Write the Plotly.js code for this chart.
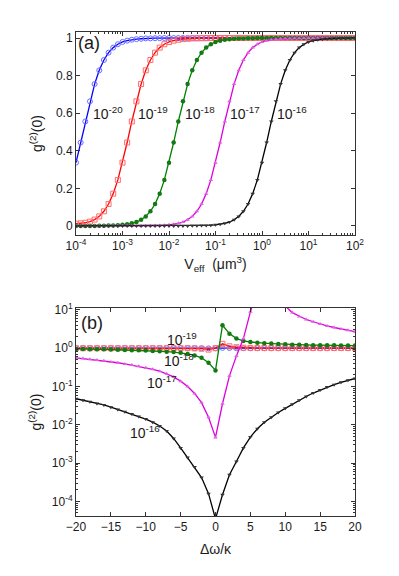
<!DOCTYPE html>
<html>
<head>
<meta charset="utf-8">
<script src="https://cdn.plot.ly/plotly-3.0.1.min.js"></script>
<style>
  html, body { margin: 0; padding: 0; background: #fff; }
  #chart { width: 399px; height: 576px; }
</style>
</head>
<body>
<div id="chart"></div>
<script>
// ---- panel (a): g2(0) against mode volume, exponents of V_eff (um^3)
const vExp = [-4,-3.9,-3.8,-3.7,-3.6,-3.5,-3.4,-3.3,-3.2,-3.1,
  -3,-2.9,-2.8,-2.7,-2.6,-2.5,-2.4,-2.3,-2.2,-2.1,
  -2,-1.9,-1.8,-1.7,-1.6,-1.5,-1.4,-1.3,-1.2,-1.1,
  -1,-0.9,-0.8,-0.7,-0.6,-0.5,-0.4,-0.3,-0.2,-0.1,
  0,0.1,0.2,0.3,0.4,0.5,0.6,0.7,0.8,0.9,
  1,1.1,1.2,1.3,1.4,1.5,1.6,1.7,1.8,1.9,2];

const g20 = [0.337,0.444,0.556,0.663,0.755,0.828,0.883,0.922,0.949,0.967,
  0.979,0.986,0.991,0.994,0.996,0.998,0.998,0.999,0.999,1,
  1,1,1,1,1,1,1,1,1,1, 1,1,1,1,1,1,1,1,1,1,
  1,1,1,1,1,1,1,1,1,1, 1,1,1,1,1,1,1,1,1,1, 1];
const g19 = [0.012,0.014,0.017,0.023,0.034,0.051,0.078,0.117,0.172,0.245,
  0.337,0.444,0.556,0.663,0.755,0.828,0.883,0.922,0.949,0.967,
  0.979,0.986,0.991,0.994,0.996,0.998,0.998,0.999,0.999,1,
  1,1,1,1,1,1,1,1,1,1, 1,1,1,1,1,1,1,1,1,1, 1,1,1,1,1,1,1,1,1,1, 1];
const g18 = [0,0,0,0,0,0.001,0.001,0.002,0.002,0.004,
  0.006,0.009,0.014,0.021,0.033,0.051,0.078,0.117,0.172,0.245,
  0.337,0.444,0.556,0.663,0.755,0.828,0.883,0.922,0.949,0.967,
  0.979,0.986,0.991,0.994,0.996,0.998,0.998,0.999,0.999,1,
  1,1,1,1,1,1,1,1,1,1, 1,1,1,1,1,1,1,1,1,1, 1];
const g17 = [0,0,0,0,0,0,0,0,0,0,
  0,0,0,0,0,0.001,0.001,0.002,0.002,0.004,
  0.006,0.009,0.014,0.021,0.033,0.051,0.078,0.117,0.172,0.245,
  0.337,0.444,0.556,0.663,0.755,0.828,0.883,0.922,0.949,0.967,
  0.979,0.986,0.991,0.994,0.996,0.998,0.998,0.999,0.999,1,
  1,1,1,1,1,1,1,1,1,1, 1];
const g16 = [0,0,0,0,0,0,0,0,0,0,
  0,0,0,0,0,0,0,0,0,0,
  0,0,0,0,0,0.001,0.001,0.002,0.002,0.004,
  0.006,0.009,0.014,0.021,0.033,0.051,0.078,0.117,0.172,0.245,
  0.337,0.444,0.556,0.663,0.755,0.828,0.883,0.922,0.949,0.967,
  0.979,0.986,0.991,0.994,0.996,0.998,0.998,0.999,0.999,1, 1];

// ---- panel (b): g2(0) against detuning
const detune = [-20,-19,-18,-17,-16,-15,-14,-13,-12,-11,-10,-9,-8,-7,-6,-5,-4,-3,-2,-1,
  0,1,2,3,4,5,6,7,8,9,10,11,12,13,14,15,16,17,18,19,20];
const d20 = [1,1,1,1,1,1,1,1,1,1,1,1,1,1,1,1,1,1,1,0.99,
  1,1.02,1.01,1,1,1,1,1,1,1,1,1,1,1,1,1,1,1,1,1,1];
const d19 = [1,1,1,1,1,1,1,1,1,1,1,1,1,1,1,1,1,0.99,0.97,0.92,
  1.0,1.3,1.12,1.06,1.03,1.02,1.01,1.01,1.01,1.01,1.01,1.01,1.01,1.01,1.01,1.01,1.01,1.01,1.01,1.01,1.01];
const d18 = [0.955,0.955,0.944,0.933,0.933,0.923,0.912,0.902,0.891,0.881,
  0.871,0.851,0.832,0.813,0.794,0.759,0.708,0.646,0.562,0.417,
  0.263,3.98,2.40,1.78,1.55,1.45,1.38,1.35,1.32,1.29,
  1.26,1.24,1.23,1.22,1.20,1.20,1.19,1.19,1.17,1.17,1.17];
const d17 = [0.562,0.537,0.513,0.490,0.468,0.437,0.417,0.389,0.363,0.339,
  0.309,0.282,0.251,0.214,0.178,0.138,0.100,0.066,0.038,0.0158,
  0.0047,0.0355,0.19,0.63,1.78,8.9,31.6,70.8,63.1,25.1,
  12.6,8.5,6.76,5.62,4.90,4.27,3.80,3.47,3.16,2.95,2.69];
const d16 = [0.0479,0.0437,0.0398,0.0363,0.0331,0.0288,0.0251,0.0219,0.0191,0.0166,
  0.0141,0.0117,0.0093,0.0069,0.0044,0.0025,0.0014,0.00079,0.00042,0.00016,
  0.000035,0.00015,0.0005,0.0011,0.0025,0.0048,0.0079,0.0117,0.0158,0.0209,
  0.0269,0.0347,0.0437,0.055,0.0676,0.0813,0.0977,0.112,0.129,0.145,0.162];

const curveLabels = ['10<sup>-20</sup>','10<sup>-19</sup>','10<sup>-18</sup>','10<sup>-17</sup>','10<sup>-16</sup>'];
const vTickVals = [1e-4,1e-3,1e-2,1e-1,1,10,100];
const vTickText = ['10<sup>-4</sup>','10<sup>-3</sup>','10<sup>-2</sup>','10<sup>-1</sup>','10<sup>0</sup>','10<sup>1</sup>','10<sup>2</sup>'];
const gTickVals = [1e-4,1e-3,1e-2,1e-1,1,10];
const gTickText = ['10<sup>-4</sup>','10<sup>-3</sup>','10<sup>-2</sup>','10<sup>-1</sup>','10<sup>0</sup>','10<sup>1</sup>'];

const V = vExp.map(e => Math.pow(10, e));

const styles = [
  { color: '#0000ff', marker: { symbol: 'circle-open', size: 5, color: '#6b6bff', line: { width: 1 } } },
  { color: '#ff0000', marker: { symbol: 'square-open', size: 5, color: '#ff6b6b', line: { width: 1 } } },
  { color: '#008000', marker: { symbol: 'circle', size: 4.5, color: '#137a13' } },
  { color: '#dd00dd', marker: { symbol: 'triangle-up', size: 4, color: '#e060e0' } },
  { color: '#000000', marker: { symbol: 'triangle-down', size: 4, color: '#333333' } }
];

const topSeries = [g20, g19, g18, g17, g16];
const botSeries = [d20, d19, d18, d17, d16];

const traces = [];
topSeries.forEach((ys, i) => {
  traces.push({
    x: V, y: ys, xaxis: 'x', yaxis: 'y', type: 'scatter', mode: 'lines+markers',
    line: { color: styles[i].color, width: 1.3 }, marker: styles[i].marker, hoverinfo: 'skip'
  });
});
botSeries.forEach((ys, i) => {
  traces.push({
    x: detune, y: ys, xaxis: 'x2', yaxis: 'y2', type: 'scatter', mode: 'lines+markers',
    line: { color: styles[i].color, width: 1.3 }, marker: styles[i].marker, hoverinfo: 'skip'
  });
});

const axisLine = { showline: true, linecolor: '#333', linewidth: 1, mirror: 'ticks',
  ticks: 'inside', ticklen: 4, tickcolor: '#333', showgrid: false, zeroline: false };
const font = { family: 'Liberation Sans, Arial, sans-serif', size: 12, color: '#1a1a1a' };

// label positions (log10 units on log axes)
const topLabelX = [-3.31, -2.345, -1.34, -0.355, 0.636];
const botLabels = [
  { text: curveLabels[1], x: -4.75, y: 0.235 },
  { text: curveLabels[2], x: -5.27, y: -0.32 },
  { text: curveLabels[3], x: -7.72, y: -0.89 },
  { text: curveLabels[4], x: -10.13, y: -2.19 }
];

const annotations = [];
topLabelX.forEach((lx, i) => {
  annotations.push({ xref: 'x', yref: 'y', x: lx, y: 0.60, text: curveLabels[i],
    showarrow: false, font: { size: 14 } });
});
botLabels.forEach(l => {
  annotations.push({ xref: 'x2', yref: 'y2', x: l.x, y: l.y, text: l.text,
    showarrow: false, font: { size: 14 } });
});
annotations.push({ xref: 'x', yref: 'y', x: -3.71, y: 0.972, text: '(a)', showarrow: false, font: { size: 18 } });
annotations.push({ xref: 'x2', yref: 'y2', x: -17.77, y: 0.65, text: '(b)', showarrow: false, font: { size: 18 } });

const layout = {
  width: 399, height: 576,
  margin: { l: 76, r: 44, t: 32, b: 60 },
  paper_bgcolor: '#fff', plot_bgcolor: '#fff',
  showlegend: false, font: font,
  xaxis: Object.assign({}, axisLine, {
    type: 'log', range: [-4, 2], domain: [0, 1], anchor: 'y',
    tickmode: 'array', tickvals: vTickVals, ticktext: vTickText,
    minor: { ticks: 'inside', ticklen: 2, dtick: 'D1', tickcolor: '#333' },
    title: { text: 'V<sub>eff</sub>  (μm<sup>3</sup>)', font: { size: 14 }, standoff: 6 }
  }),
  yaxis: Object.assign({}, axisLine, {
    range: [-0.048, 1.032], domain: [0.5806, 1], anchor: 'x',
    tickmode: 'array', tickvals: [0, 0.2, 0.4, 0.6, 0.8, 1],
    title: { text: 'g<sup>(2)</sup>(0)', font: { size: 14 }, standoff: 10 }
  }),
  xaxis2: Object.assign({}, axisLine, {
    range: [-20, 20], domain: [0, 1], anchor: 'y2', dtick: 5,
    title: { text: 'Δω/κ', font: { size: 14 }, standoff: 10 }
  }),
  yaxis2: Object.assign({}, axisLine, {
    type: 'log', range: [-4.38, 1.05], domain: [0, 0.4298], anchor: 'x2',
    tickmode: 'array', tickvals: gTickVals, ticktext: gTickText,
    minor: { ticks: 'inside', ticklen: 2, dtick: 'D1', tickcolor: '#333' },
    title: { text: 'g<sup>(2)</sup>(0)', font: { size: 14 }, standoff: 6 }
  }),
  annotations: annotations
};

Plotly.newPlot('chart', traces, layout, { displayModeBar: false, staticPlot: true });
</script>
</body>
</html>
